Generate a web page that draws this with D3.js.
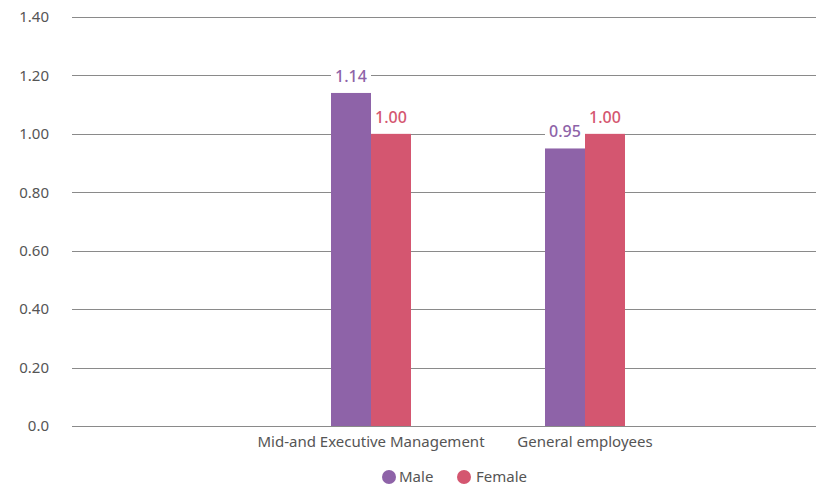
<!DOCTYPE html>
<html>
<head>
<meta charset="utf-8">
<script src="https://cdn.jsdelivr.net/npm/d3@7"></script>
<style>
  html, body { margin: 0; padding: 0; background: #fff; }
  svg { display: block; font-family: "Noto Sans", "Open Sans", sans-serif; }
</style>
</head>
<body>
<svg id="chart" width="816" height="485"></svg>
<script>
// Categories and series
const categories = ["Mid-and Executive Management", "General employees"];
const series = ["Male", "Female"];
const maleValues = [1.14, 0.95];
const femaleValues = [1.00, 1.00];
const yTicks = [0, 0.2, 0.4, 0.6, 0.8, 1.0, 1.2, 1.4];
const yTickLabels = ["0.0", "0.20", "0.40", "0.60", "0.80", "1.00", "1.20", "1.40"];
const colors = { Male: "#8E63A8", Female: "#D45670" };

const rows = categories.map((c, i) => ({
  category: c,
  values: [
    { key: "Male", value: maleValues[i] },
    { key: "Female", value: femaleValues[i] }
  ]
}));

const svg = d3.select("#chart");
const plotLeft = 72, plotRight = 816, plotTop = 17, plotBottom = 426;

const y = d3.scaleLinear().domain([0, 1.4]).range([plotBottom, plotTop]);
const x0 = d3.scaleBand().domain(categories).range([264, 692]);
const barW = 40;
const x1 = d3.scaleBand().domain(series)
  .range([x0.bandwidth() / 2 - barW, x0.bandwidth() / 2 + barW]);

// Horizontal gridlines
svg.append("g")
  .selectAll("line")
  .data(yTicks)
  .join("line")
  .attr("x1", plotLeft).attr("x2", plotRight)
  .attr("y1", d => Math.round(y(d)) + 0.5).attr("y2", d => Math.round(y(d)) + 0.5)
  .attr("stroke", "#8a8a8a").attr("stroke-width", 1);

// Y axis labels
const yAxis = d3.axisLeft(y).tickValues(yTicks)
  .tickFormat((d, i) => yTickLabels[i]).tickSize(0).tickPadding(0);
const yg = svg.append("g").attr("transform", "translate(49,0)").call(yAxis);
yg.select(".domain").remove();
yg.selectAll("text").attr("fill", "#555").style("font-size", "15px")
  .style("font-family", "'Noto Sans', sans-serif");

// Bars
const groups = svg.append("g").selectAll("g")
  .data(rows).join("g")
  .attr("transform", d => `translate(${x0(d.category)},0)`);

groups.selectAll("rect.bar")
  .data(d => d.values).join("rect")
  .attr("class", "bar")
  .attr("x", d => x1(d.key))
  .attr("width", x1.bandwidth())
  .attr("y", d => y(d.value))
  .attr("height", d => y(0) - y(d.value))
  .attr("fill", d => colors[d.key]);

// Value labels on white backing boxes
const labels = groups.selectAll("g.val")
  .data(d => d.values).join("g")
  .attr("class", "val")
  .attr("transform", d => `translate(${x1(d.key) + x1.bandwidth() / 2},${y(d.value) - 11})`);

labels.append("rect")
  .attr("x", -20).attr("y", -16).attr("width", 40).attr("height", 21)
  .attr("fill", "#fff");

labels.append("text")
  .attr("text-anchor", "middle")
  .attr("fill", d => colors[d.key])
  .style("font-size", "16px")
  .style("font-weight", 500)
  .text(d => d.value.toFixed(2));

// X axis category labels
const xAxis = d3.axisBottom(x0).tickSize(0).tickPadding(0);
const xg = svg.append("g").attr("transform", `translate(0,${plotBottom + 10})`).call(xAxis);
xg.select(".domain").remove();
xg.selectAll("text").attr("fill", "#555").style("font-size", "15px")
  .style("font-family", "'Noto Sans', sans-serif");

// Legend
const legendItems = [
  { key: "Male", cx: 389, tx: 399 },
  { key: "Female", cx: 464, tx: 476 }
];
const lg = svg.append("g");
lg.selectAll("circle").data(legendItems).join("circle")
  .attr("cx", d => d.cx).attr("cy", 477).attr("r", 7)
  .attr("fill", d => colors[d.key]);
lg.selectAll("text").data(legendItems).join("text")
  .attr("x", d => d.tx).attr("y", 477).attr("dy", "0.35em")
  .attr("fill", "#555").style("font-size", "15px")
  .text(d => d.key);
</script>
</body>
</html>
